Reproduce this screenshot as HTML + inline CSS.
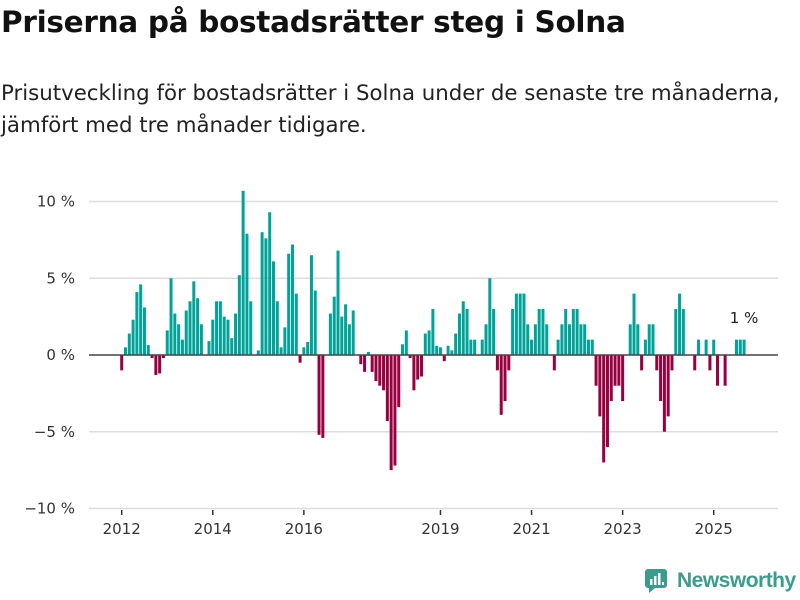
<!DOCTYPE html>
<html><head><meta charset="utf-8"><style>
body{margin:0;background:#fff;width:800px;height:600px;overflow:hidden;font-family:"DejaVu Sans","Liberation Sans",sans-serif;color:#111}
#title{position:absolute;left:1px;top:5px;font-size:29.5px;font-weight:bold;margin:0;letter-spacing:-0.3px;white-space:nowrap}
#sub{position:absolute;left:1px;top:78px;font-size:21.3px;line-height:32px;width:800px;color:#222;white-space:nowrap}
svg{position:absolute;left:0;top:0}
</style></head><body>
<h1 id="title">Priserna på bostadsrätter steg i Solna</h1>
<div id="sub">Prisutveckling för bostadsrätter i Solna under de senaste tre månaderna,<br>jämfört med tre månader tidigare.</div>
<svg id="chart" width="800" height="600"></svg>
<div style="position:absolute;left:645px;top:569px;display:flex;align-items:center">
<svg width="22" height="24" style="position:static"><rect x="0" y="0" width="22" height="19" rx="3" fill="#3a9c8c"/><path d="M4 19 L4 24 L10 19Z" fill="#3a9c8c"/><rect x="5" y="10" width="2.5" height="6" fill="#fff"/><rect x="9" y="7" width="2.5" height="9" fill="#fff"/><rect x="13" y="4" width="2.5" height="12" fill="#fff"/><rect x="17" y="13" width="2" height="3" fill="#fff"/></svg>
<span style="font-size:21px;color:#3a9c8c;margin-left:10px;font-weight:bold;letter-spacing:-0.5px;font-family:'Liberation Sans',sans-serif">Newsworthy</span></div>
<script>
const values=[-1.0,0.5,1.4,2.3,4.1,4.6,3.1,0.65,-0.2,-1.3,-1.2,-0.2,1.6,5.0,2.7,2.0,1.0,2.9,3.5,4.8,3.7,2.0,0,0.9,2.3,3.5,3.5,2.5,2.3,1.1,2.7,5.2,10.7,7.9,3.5,0,0.3,8.0,7.6,9.3,6.1,3.5,0.5,1.8,6.6,7.2,4.0,-0.5,0.5,0.85,6.5,4.2,-5.2,-5.4,0,2.7,3.8,6.8,2.5,3.3,2.0,2.9,0,-0.6,-1.1,0.2,-1.1,-1.7,-2.0,-2.3,-4.3,-7.5,-7.2,-3.4,0.7,1.6,-0.2,-2.3,-1.6,-1.4,1.4,1.6,3.0,0.6,0.5,-0.4,0.6,0.3,1.4,2.7,3.5,3.0,1.0,1.0,0,1.0,2.0,5.0,3.0,-1.0,-3.9,-3.0,-1.0,3.0,4,4,4,2,1,2,3,3,2,0,-1,1,2,3,2,3,3,2,2,1,1,-2,-4,-7,-6,-3,-2,-2,-3,0,2,4,2,-1,1,2,2,-1,-3,-5,-4,-1,3,4,3,0,0,-1,1,0,1,-1,1,-2,0,-2,0,0,1,1,1];
const startYear=2012;
const yTicks=[10,5,0,-5,-10];
const yTickLabels=["10 %","5 %","0 %","\u22125 %","\u221210 %"];
const xTickYears=[2012,2014,2016,2019,2021,2023,2025];
const lastLabel="1 %";
const svg=document.getElementById('chart');
const NS='http://www.w3.org/2000/svg';
const X0=121.7,STEP=3.795,Y0=355,PX=15.35,L=89,R=778;
const FONT='DejaVu Sans, Liberation Sans, sans-serif';
const xm=i=>X0+i*STEP;
const xy=y=>xm((y-startYear)*12);
const ys=v=>Y0-v*PX;
function mk(t,a){const e=document.createElementNS(NS,t);for(const k in a)e.setAttribute(k,a[k]);svg.appendChild(e);return e;}
yTicks.forEach((t,i)=>{
 if(t!==0){const g=mk('line',{x1:L,x2:R,y1:ys(t),y2:ys(t),stroke:'#ddd','stroke-width':1.5});
 
 }
 const tx=mk('text',{x:75,y:ys(t)+5,'text-anchor':'end','font-size':15,fill:'#333','font-family':FONT});
 tx.textContent=yTickLabels[i];
 
 
});
values.forEach((v,i)=>{
 if(v===0)return;
 const b=mk('rect',{x:xm(i)-1.5,width:3,y:v>0?ys(v):Y0,height:Math.abs(v)*PX,fill:v>0?'#00a398':'#98003f'});
 
 
});
const z=mk('line',{x1:L,x2:R,y1:Y0,y2:Y0,stroke:'#444','stroke-width':1.5});


xTickYears.forEach(yr=>{
 const x=xy(yr);
 const tk=mk('line',{x1:x,x2:x,y1:510,y2:515,stroke:'#333','stroke-width':1.5});
 
 
 const tx=mk('text',{x:x,y:534,'text-anchor':'middle','font-size':15,fill:'#333','font-family':FONT});
 tx.textContent=yr;
 
 
});
const lb=mk('text',{x:xm(values.length-1),y:323,'text-anchor':'middle','font-size':15,fill:'#222','font-family':FONT});
lb.textContent=lastLabel;


</script>
</body></html>
